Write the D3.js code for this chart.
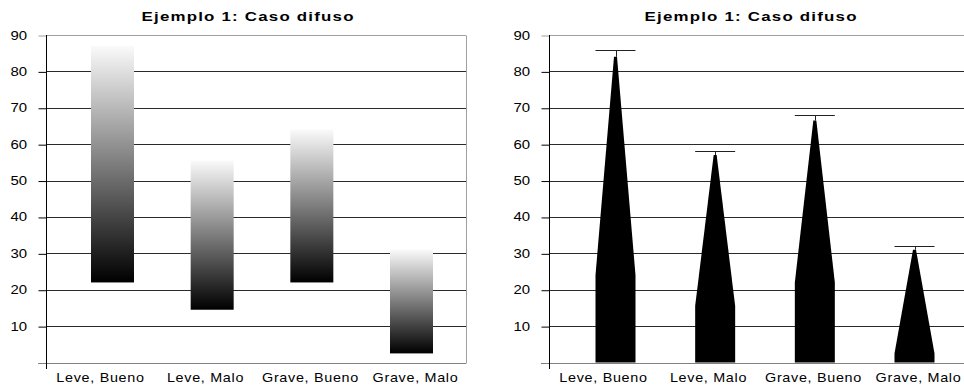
<!DOCTYPE html>
<html><head><meta charset="utf-8">
<script src="https://cdn.jsdelivr.net/npm/d3@7"></script>
<style>
body{margin:0;background:#fff;}
svg{display:block;font-family:"Liberation Sans",Arial,sans-serif;}
</style></head><body>
<svg id="chart" width="964" height="389"></svg>
<script>
// Categories and axis ticks
const categories = ["Leve, Bueno", "Leve, Malo", "Grave, Bueno", "Grave, Malo"];
const yTicks = [10, 20, 30, 40, 50, 60, 70, 80, 90];
const chartTitle = "Ejemplo 1: Caso difuso";

// Left panel: fuzzy interval shown as a shaded band (low -> high)
const rangeLow  = [22, 14.5, 22, 2.5];
const rangeHigh = [87, 55.5, 64, 31];

// Right panel: membership spike (solid core, tapering to the peak, capped whisker)
const coreTop  = [24, 15.5, 22, 2.5];
const peakTop  = [84, 57, 66.5, 31];
const capValue = [86, 58, 68, 32];

const svg = d3.select("#chart");
const y = d3.scaleLinear().domain([0, 90]).range([362.5, 35]);
const stretch = 1.15; // text is drawn slightly widened

const defs = svg.append("defs");
const grad = defs.append("linearGradient")
  .attr("id", "fade").attr("x1", 0).attr("y1", 1).attr("x2", 0).attr("y2", 0);
grad.append("stop").attr("offset", "0%").attr("stop-color", "#000");
grad.append("stop").attr("offset", "100%").attr("stop-color", "#fafafa");

function panel(plotLeft, plotRight, showRightBorder, drawMarks) {
  const g = svg.append("g");
  const xLabel = d3.scaleBand().domain(categories).range([plotLeft + 2, plotLeft + 422]);
  const xMark = d3.scalePoint().domain(categories).range([plotLeft + 66.5, plotLeft + 365.5]);

  // title
  g.append("text")
    .attr("transform", `translate(${plotLeft + 201.5},21) scale(1.25,1)`)
    .attr("text-anchor", "middle")
    .attr("font-weight", "bold").attr("font-size", 13.5)
    .attr("textLength", 212 / 1.25).attr("lengthAdjust", "spacing")
    .text(chartTitle);

  // horizontal gridlines
  g.selectAll("line.grid").data(yTicks).join("line")
    .attr("class", "grid")
    .attr("x1", plotLeft).attr("x2", plotRight)
    .attr("y1", d => Math.round(y(d)) + 0.5).attr("y2", d => Math.round(y(d)) + 0.5)
    .attr("stroke", d => d === 90 ? "#a0a0a0" : "#2a2a2a")
    .attr("stroke-width", 1);

  // plot border on the right
  if (showRightBorder) {
    g.append("line")
      .attr("x1", plotRight + 0.5).attr("x2", plotRight + 0.5)
      .attr("y1", Math.round(y(90)) + 0.5).attr("y2", Math.round(y(0)) + 0.5)
      .attr("stroke", "#a0a0a0");
  }

  drawMarks(g, xMark);

  // category axis line
  g.append("line")
    .attr("x1", plotLeft - 8).attr("x2", plotRight)
    .attr("y1", Math.round(y(0)) + 0.5).attr("y2", Math.round(y(0)) + 0.5)
    .attr("stroke", "#808080");

  // value axis ticks
  const yAxis = d3.axisLeft(y).tickValues(yTicks).tickSize(8).tickFormat("");
  const ax = g.append("g").attr("transform", `translate(${plotLeft + 0.5},0)`).call(yAxis);
  ax.select(".domain").remove();
  ax.selectAll(".tick line").attr("stroke", d => d === 90 ? "#a0a0a0" : "#000")
    .attr("transform", "translate(0,0.5)");
  g.selectAll("text.ylab").data(yTicks).join("text")
    .attr("class", "ylab")
    .attr("transform", d => `translate(${plotLeft - 19},${y(d)}) scale(${stretch},1)`)
    .attr("dy", "0.35em")
    .attr("text-anchor", "end")
    .attr("font-size", 13)
    .text(d => d);
  g.append("line")
    .attr("x1", plotLeft + 0.5).attr("x2", plotLeft + 0.5)
    .attr("y1", Math.round(y(90))).attr("y2", Math.round(y(0)) + 6)
    .attr("stroke", "#000");

  // category labels
  g.selectAll("text.cat").data(categories).join("text")
    .attr("class", "cat")
    .attr("transform", d => `translate(${xLabel(d) + xLabel.bandwidth() / 2},382) scale(${stretch},1)`)
    .attr("text-anchor", "middle")
    .attr("font-size", 12.5).attr("letter-spacing", "0.6px")
    .text(d => d);
}

// left: shaded interval bars
panel(46, 466, true, (g, x) => {
  const w = 43;
  g.selectAll("rect.band").data(categories).join("rect")
    .attr("class", "band")
    .attr("x", d => x(d) - w / 2)
    .attr("width", w)
    .attr("y", (d, i) => y(rangeHigh[i]))
    .attr("height", (d, i) => y(rangeLow[i]) - y(rangeHigh[i]))
    .attr("fill", "url(#fade)");
});

// right: tapering spikes with capped whisker
panel(549, 980, false, (g, x) => {
  const w = 40, tip = 1.5;
  g.selectAll("path.spike").data(categories).join("path")
    .attr("class", "spike")
    .attr("d", (d, i) => {
      const c = x(d);
      return d3.line()([
        [c - w / 2, y(0)], [c - w / 2, y(coreTop[i])], [c - tip, y(peakTop[i])],
        [c + tip, y(peakTop[i])], [c + w / 2, y(coreTop[i])], [c + w / 2, y(0)]
      ]) + "Z";
    })
    .attr("fill", "#000");
  g.selectAll("line.whisker").data(categories).join("line")
    .attr("class", "whisker")
    .attr("x1", d => Math.round(x(d)) + 0.5).attr("x2", d => Math.round(x(d)) + 0.5)
    .attr("y1", (d, i) => y(peakTop[i])).attr("y2", (d, i) => Math.round(y(capValue[i])) + 0.5)
    .attr("stroke", "#222");
  g.selectAll("line.cap").data(categories).join("line")
    .attr("class", "cap")
    .attr("x1", d => x(d) - w / 2).attr("x2", d => x(d) + w / 2)
    .attr("y1", (d, i) => Math.round(y(capValue[i])) + 0.5)
    .attr("y2", (d, i) => Math.round(y(capValue[i])) + 0.5)
    .attr("stroke", "#222");
});
</script>
</body></html>
